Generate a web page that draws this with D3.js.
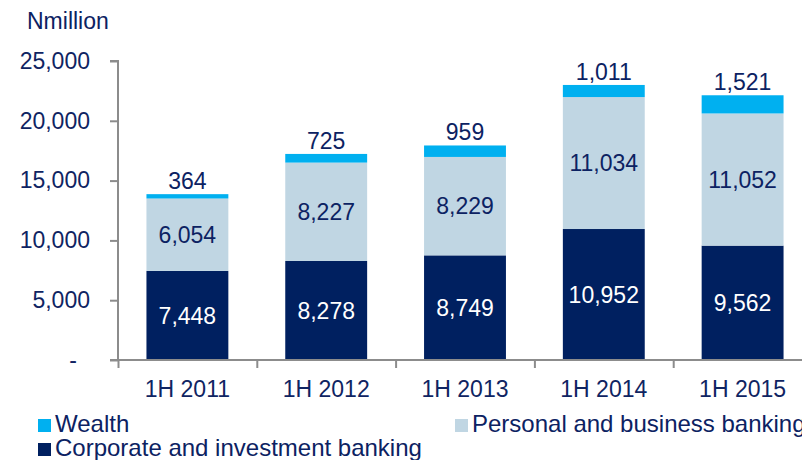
<!DOCTYPE html>
<html>
<head>
<meta charset="utf-8">
<script src="https://cdn.jsdelivr.net/npm/d3@7"></script>
<style>
  body { margin: 0; background: #fff; }
  svg { display: block; font-family: "Liberation Sans", Arial, sans-serif; }
  .axis path, .axis line { stroke: #8c8c8c; stroke-width: 2; }
  .axis text { fill: #0f2462; font-size: 23px; font-family: "Liberation Sans", Arial, sans-serif; }
</style>
</head>
<body>
<svg id="chart" width="802" height="460"></svg>
<script>
// data
const periods = ['1H 2011', '1H 2012', '1H 2013', '1H 2014', '1H 2015']
const corporate = [7448, 8278, 8749, 10952, 9562]
const personal = [6054, 8227, 8229, 11034, 11052]
const wealth = [364, 725, 959, 1011, 1521]
const yTicks = [0, 5000, 10000, 15000, 20000, 25000]

const seriesNames = ['Corporate and investment banking', 'Personal and business banking', 'Wealth']
const colours = ['#002060', '#c0d6e3', '#00b0f0']
const textNavy = '#0c2262'

const totalWidth = 802, totalHeight = 460
const plot = { left: 118, right: 812, top: 61, bottom: 360 }

const svg = d3.select('#chart')

// build rows for the stack
const rows = periods.map((p, i) => ({ period: p, c: corporate[i], p: personal[i], w: wealth[i] }))
const stacked = d3.stack().keys(['c', 'p', 'w'])(rows)

const x = d3.scaleBand()
  .domain(periods)
  .range([plot.left, plot.right])
  .paddingInner(0.41)
  .paddingOuter(0.205)

const y = d3.scaleLinear()
  .domain([0, 25000])
  .range([plot.bottom, plot.top])

// unit label
svg.append('text')
  .attr('x', 27)
  .attr('y', 29)
  .style('font-size', '23px')
  .style('fill', textNavy)
  .text('Nmillion')

// bars
svg.selectAll('g.layer')
  .data(stacked)
  .enter()
  .append('g')
  .attr('class', 'layer')
  .attr('fill', (d, i) => colours[i])
  .selectAll('rect')
  .data(d => d)
  .enter()
  .append('rect')
  .attr('x', d => x(d.data.period))
  .attr('width', x.bandwidth())
  .attr('y', d => y(d[1]))
  .attr('height', d => y(d[0]) - y(d[1]))

// y axis
const yAxis = d3.axisLeft(y)
  .tickValues(yTicks)
  .tickSize(8)
  .tickPadding(20)
  .tickFormat(d => d === 0 ? '-' : d3.format(',')(d))

const gy = svg.append('g')
  .attr('class', 'axis')
  .attr('transform', 'translate(' + plot.left + ',0)')
  .call(yAxis)
gy.select('.domain').attr('d', 'M-8,' + plot.top + 'H0V' + plot.bottom + 'H-8')
gy.selectAll('.tick text').filter(d => d === 0).attr('x', -41)

// x axis: labels centred, tick marks between categories
const xAxis = d3.axisBottom(x).tickSize(0).tickPadding(21)
const gx = svg.append('g')
  .attr('class', 'axis')
  .attr('transform', 'translate(0,' + plot.bottom + ')')
  .call(xAxis)
gx.select('.domain').attr('d', 'M' + plot.left + ',0H' + plot.right)

const xBounds = d3.scaleLinear().domain([0, periods.length]).range([plot.left, plot.right])
svg.append('g')
  .attr('class', 'axis')
  .attr('transform', 'translate(0,' + plot.bottom + ')')
  .call(d3.axisBottom(xBounds).ticks(periods.length).tickSize(8).tickFormat(''))
  .select('.domain').remove()

// segment labels
const fmt = d3.format(',')
const labelColours = ['#ffffff', textNavy]
stacked.slice(0, 2).forEach((layer, k) => {
  svg.append('g')
    .selectAll('text')
    .data(layer)
    .enter()
    .append('text')
    .attr('x', d => x(d.data.period) + x.bandwidth() / 2)
    .attr('y', d => (y(d[0]) + y(d[1])) / 2)
    .attr('dy', '0.35em')
    .attr('text-anchor', 'middle')
    .style('font-size', '23px')
    .style('fill', labelColours[k])
    .text(d => fmt(d[1] - d[0]))
})

// wealth labels above bars
svg.append('g')
  .selectAll('text')
  .data(stacked[2])
  .enter()
  .append('text')
  .attr('x', d => x(d.data.period) + x.bandwidth() / 2)
  .attr('y', d => y(d[1]) - 5)
  .attr('text-anchor', 'middle')
  .style('font-size', '23px')
  .style('fill', textNavy)
  .text(d => fmt(d[1] - d[0]))

// legend
const legend = [
  { name: seriesNames[2], colour: colours[2], x: 38, y: 432 },
  { name: seriesNames[1], colour: colours[1], x: 455, y: 432 },
  { name: seriesNames[0], colour: colours[0], x: 38, y: 456 }
]
const lg = svg.selectAll('g.legend')
  .data(legend)
  .enter()
  .append('g')
  .attr('class', 'legend')
  .attr('transform', d => 'translate(' + d.x + ',' + d.y + ')')
lg.append('rect')
  .attr('x', 0)
  .attr('y', -13)
  .attr('width', 13)
  .attr('height', 13)
  .attr('fill', d => d.colour)
lg.append('text')
  .attr('x', 17)
  .attr('y', 0)
  .style('font-size', '24px')
  .style('fill', textNavy)
  .text(d => d.name)
</script>
</body>
</html>
